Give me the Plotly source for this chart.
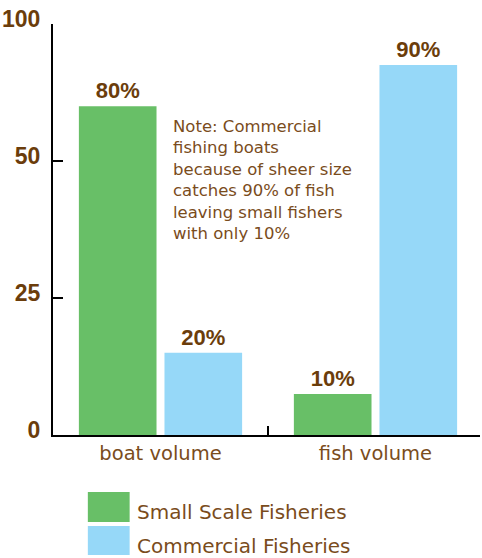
import plotly.graph_objects as go

# Chart data
categories = ["boat volume", "fish volume"]
small_scale = [80, 10]
commercial = [20, 90]
series_names = ["Small Scale Fisheries", "Commercial Fisheries"]
y_tick_vals = [0, 100 / 3, 200 / 3, 100]
y_tick_text = ["0", "25", "50", "100"]
note_lines = [
    "Note: Commercial",
    "fishing boats",
    "because of sheer size",
    "catches 90% of fish",
    "leaving small fishers",
    "with only 10%",
]

GREEN = "#68bf67"
BLUE = "#96d8f8"
DARK_BROWN = "#6b3d0b"
BROWN = "#7a4c1c"

W, H = 482, 558
L, R, T, B = 51, 2, 24, 123
PW, PH = W - L - R, H - T - B


def px(x):
    return (x - L) / PW


def py(y):
    return (H - B - y) / PH


unit = 216  # pixels per category step
bar_w = 78 / unit
label_font = dict(family="Liberation Sans", size=22, color=DARK_BROWN, weight="bold")

fig = go.Figure()
fig.add_bar(
    x=categories, y=small_scale, name=series_names[0],
    marker=dict(color=GREEN, line=dict(width=0)),
    width=bar_w, offset=-82 / unit,
    texttemplate="%{y}%", textposition="outside",
    textfont=label_font, cliponaxis=False,
)
fig.add_bar(
    x=categories, y=commercial, name=series_names[1],
    marker=dict(color=BLUE, line=dict(width=0)),
    width=bar_w, offset=4 / unit,
    texttemplate="%{y}%", textposition="outside",
    textfont=label_font, cliponaxis=False,
)

fig.update_layout(
    width=W, height=H,
    margin=dict(l=L, r=R, t=T, b=B, pad=0),
    paper_bgcolor="white", plot_bgcolor="white",
    barmode="overlay",
    showlegend=False,
    xaxis=dict(
        type="category", range=[-0.5, (480 - 159) / unit],
        showline=True, linecolor="black", linewidth=2,
        ticks="inside", tickson="boundaries", ticklen=9, tickwidth=2, tickcolor="black",
        showgrid=False, zeroline=False,
        tickfont=dict(family="DejaVu Sans", size=19.5, color=BROWN),
    ),
    yaxis=dict(
        range=[0, 100],
        showline=True, linecolor="black", linewidth=2,
        ticks="inside", ticklen=10, tickwidth=2, tickcolor="black",
        tickvals=y_tick_vals, ticktext=y_tick_text,
        showgrid=False, zeroline=False,
        ticklabelstandoff=6, ticklabelshift=-5,
        tickfont=dict(family="Liberation Sans", size=23, color=DARK_BROWN, weight="bold"),
    ),
)

# Note text inside the plot
fig.add_annotation(
    xref="paper", yref="paper", x=px(170), y=py(115),
    xanchor="left", yanchor="top", align="left", showarrow=False,
    text="<br>".join(note_lines),
    font=dict(family="DejaVu Sans", size=16.5, color=BROWN),
)

# Legend drawn below the chart
legend_rows = [(492, 522, GREEN), (526, 555, BLUE)]
for (y0, y1, color), name in zip(legend_rows, series_names):
    fig.add_shape(
        type="rect", xref="paper", yref="paper",
        x0=px(86), x1=px(128), y0=py(y1), y1=py(y0),
        fillcolor=color, line=dict(width=0), layer="above",
    )
    fig.add_annotation(
        xref="paper", yref="paper", x=px(133), y=py((y0 + y1) / 2 + 5),
        xanchor="left", yanchor="middle", showarrow=False,
        text=name, font=dict(family="DejaVu Sans", size=20, color=BROWN),
    )

fig.write_html("out.html")
